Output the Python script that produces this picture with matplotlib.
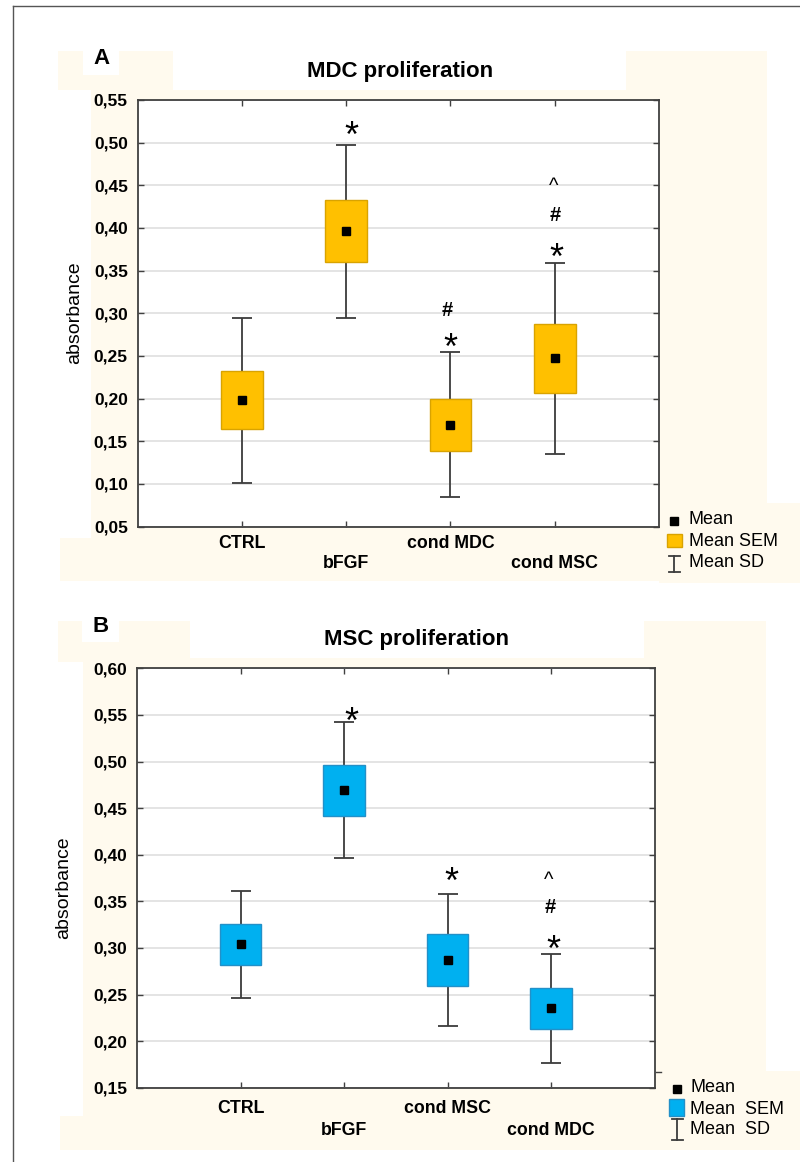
import matplotlib
matplotlib.use("Agg")
import matplotlib.pyplot as plt
from matplotlib.patches import Rectangle
from matplotlib.lines import Line2D
from matplotlib.transforms import offset_copy
from matplotlib.ticker import FuncFormatter, MultipleLocator

plt.rcParams['font.family'] = ['Liberation Sans', 'DejaVu Sans']

# ---------------- data ----------------
cats_A = ["CTRL", "bFGF", "cond MDC", "cond MSC"]
mean_A = [0.198, 0.396, 0.169, 0.247]
sem_A = [0.034, 0.0365, 0.0305, 0.040]
sd_A = [0.097, 0.101, 0.085, 0.112]

cats_B = ["CTRL", "bFGF", "cond MSC", "cond MDC"]
mean_B = [0.304, 0.469, 0.287, 0.235]
sem_B = [0.022, 0.027, 0.0275, 0.022]
sd_B = [0.0575, 0.073, 0.0713, 0.0585]

title_A = "MDC proliferation"
title_B = "MSC proliferation"
legend_A = ["Mean", "Mean SEM", "Mean SD"]
legend_B = ["Mean", "Mean  SEM", "Mean  SD"]

# significance marks: (category index, glyph, glyph-centre value, x shift px)
marks_A = [(1, "*", 0.5196, 5), (2, "*", 0.2704, 0), (2, "#", 0.305, -3),
           (3, "*", 0.377, 2), (3, "#", 0.416, 1), (3, "^", 0.454, -1)]
marks_B = [(1, "*", 0.5536, 7), (2, "*", 0.3818, 4), (3, "*", 0.309, 2),
           (3, "#", 0.345, -1), (3, "^", 0.3775, -2)]

# ---------------- layout ----------------
W, H = 800, 1162
fig = plt.figure(figsize=(W / 100, H / 100), dpi=100)
fig.patch.set_facecolor("white")
CREAM = "#FFFAEE"


def fx(x):
    return x / W


def fy(y):
    return 1 - y / H


def rect_px(x0, y0, x1, y1, color=CREAM, z=0):
    fig.add_artist(Rectangle((fx(x0), fy(y1)), (x1 - x0) / W, (y1 - y0) / H,
                             transform=fig.transFigure, facecolor=color,
                             edgecolor="none", zorder=z))


# cream background blocks, panel A
for r in [(58, 51, 173, 90), (91, 86, 138, 540), (138, 90, 626, 100),
          (626, 51, 767, 503), (659, 503, 800, 583), (60, 538, 659, 581),
          (91, 526, 659, 538)]:
    rect_px(*r)
rect_px(83, 51, 119, 75, color="white", z=0.1)
# panel B
for r in [(58, 621, 190, 662), (83, 662, 137, 1116), (137, 658, 644, 668),
          (644, 621, 766, 1071), (654, 1071, 800, 1150), (60, 1116, 654, 1150),
          (83, 1088, 654, 1116)]:
    rect_px(*r)
rect_px(82, 621, 119, 642, color="white", z=0.1)

# outer border (top and left)
fig.add_artist(Line2D([fx(13), fx(800)], [fy(5.5), fy(5.5)], transform=fig.transFigure,
                      color="#555555", lw=1.0))
fig.add_artist(Line2D([fx(13), fx(13)], [fy(5.5), fy(1162)], transform=fig.transFigure,
                      color="#555555", lw=1.0))

SPINE = "#404040"


def draw_panel(rect, cats, mean, sem, sd, ylim, face, edge, marks, row_off, yticks):
    ax = fig.add_axes(rect)
    ax.set_facecolor("white")
    ax.set_zorder(2)
    x = list(range(len(cats)))
    ax.errorbar(x, mean, yerr=sd, fmt="none", ecolor="#3c3c3c", elinewidth=1.3,
                capsize=7.5, capthick=1.3, zorder=3)
    ax.bar(x, [2 * s for s in sem], bottom=[m - s for m, s in zip(mean, sem)],
           width=0.40, color=face, edgecolor=edge, linewidth=1.0, zorder=4)
    ax.plot(x, mean, "s", color="black", ms=5.8, zorder=5)
    ax.set_xlim(-1, 4)
    ax.set_ylim(*ylim)
    ax.set_yticks(yticks)
    ax.yaxis.set_major_formatter(FuncFormatter(lambda v, p: f"{v:.2f}".replace(".", ",")))
    ax.set_xticks(x)
    ax.set_xticklabels([""] * len(x))
    ax.grid(axis="y", color="#e2e2e2", lw=1.3, zorder=0)
    ax.set_axisbelow(True)
    ax.tick_params(direction="in", top=True, right=True, length=4, width=1.0,
                   color=SPINE, pad=7)
    for lab in ax.get_yticklabels():
        lab.set_fontweight("bold")
        lab.set_fontsize(12.5)
    for s in ax.spines.values():
        s.set_color(SPINE)
        s.set_linewidth(1.3)
    # staggered category labels
    for i, c in enumerate(cats):
        off = row_off[i % 2]
        ax.annotate(c, xy=(i, 0), xycoords=("data", "axes fraction"),
                    xytext=(0, -off), textcoords="offset pixels",
                    ha="center", va="center", fontsize=12.8, fontweight="bold",
                    annotation_clip=False)
    # significance marks
    spec = {"*": (26, 0.58, "normal"), "#": (14.5, 0.35, "bold"), "^": (14.5, 0.52, "normal")}
    for i, g, yv, dxp in marks:
        fs, k, fw = spec[g]
        tr = offset_copy(ax.transData, fig=fig, x=dxp * 0.72, y=-k * fs, units="points")
        ax.text(i, yv, g, transform=tr, ha="center", va="baseline", fontsize=fs,
                fontweight=fw, zorder=6)
    return ax


axA = draw_panel([137.5 / W, fy(526.5), (659 - 137.5) / W, (526.5 - 100) / H],
                 cats_A, mean_A, sem_A, sd_A, (0.05, 0.55), "#FFC000", "#D9A300",
                 marks_A, (16.5, 36.5), [0.05 + 0.05 * i for i in range(11)])
axB = draw_panel([137 / W, fy(1087.7), (654.5 - 137) / W, (1087.7 - 668.3) / H],
                 cats_B, mean_B, sem_B, sd_B, (0.15, 0.60), "#00B0F0", "#2390C8",
                 marks_B, (20.5, 42.5), [0.15 + 0.05 * i for i in range(10)])

# titles, panel letters, y labels
fig.text(fx(400), fy(72), title_A, ha="center", va="center", fontsize=16, fontweight="bold")
fig.text(fx(416), fy(639), title_B, ha="center", va="center", fontsize=16, fontweight="bold")
fig.text(fx(101), fy(59), "A", ha="center", va="center", fontsize=16, fontweight="bold")
fig.text(fx(101), fy(627), "B", ha="center", va="center", fontsize=16, fontweight="bold")
fig.text(fx(75), fy(313), "absorbance", rotation=90, ha="center", va="center", fontsize=14)
fig.text(fx(64), fy(888), "absorbance", rotation=90, ha="center", va="center", fontsize=14)

# tiny stray tick at right of panel B
fig.add_artist(Line2D([fx(656), fx(661)], [fy(1072), fy(1072)], transform=fig.transFigure,
                      color=SPINE, lw=1.0))


def legend(xc, ysq, yr0, yr1, yb0, yb1, rx0, rx1, xt, ytxt, labels, face, edge):
    z = 3
    fig.add_artist(Line2D([fx(xc)], [fy(ysq)], marker="s", color="black", ms=5.8,
                          transform=fig.transFigure, zorder=z))
    fig.add_artist(Rectangle((fx(rx0), fy(yr1)), (rx1 - rx0) / W, (yr1 - yr0) / H,
                             transform=fig.transFigure, facecolor=face, edgecolor=edge,
                             lw=1.0, zorder=z))
    fig.add_artist(Line2D([fx(xc), fx(xc)], [fy(yb0), fy(yb1)], transform=fig.transFigure,
                          color="#3c3c3c", lw=1.3, zorder=z))
    for yy in (yb0, yb1):
        fig.add_artist(Line2D([fx(xc - 5.5), fx(xc + 5.5)], [fy(yy), fy(yy)],
                              transform=fig.transFigure, color="#3c3c3c", lw=1.3, zorder=z))
    for lab, yy in zip(labels, ytxt):
        fig.text(fx(xt), fy(yy), lab, ha="left", va="center", fontsize=13, zorder=z)


legend(674, 521, 534, 547, 556, 572, 667, 682, 689, (519, 541, 562), legend_A,
       "#FFC000", "#D9A300")
legend(677, 1089, 1099, 1116, 1119, 1140, 669, 684, 690, (1088, 1109, 1130), legend_B,
       "#00B0F0", "#2390C8")

fig.savefig("out.png", dpi=100, facecolor="white")
